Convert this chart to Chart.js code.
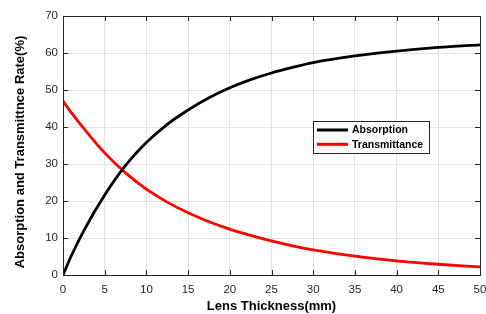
<!DOCTYPE html>
<html>
<head>
<meta charset="utf-8">
<script src="https://cdn.jsdelivr.net/npm/chart.js@4/dist/chart.umd.min.js"></script>
<style>
  html, body { margin: 0; padding: 0; background: #fff; }
  #wrap { width: 486px; height: 314px; position: relative; }
</style>
</head>
<body>
<div id="wrap"><canvas id="chart"></canvas></div>
<script>
// ─── Data ────────────────────────────────────────────────────────
const thicknessMm   = [0, 1, 2.5, 5, 7.5, 10, 12.5, 15, 17.5, 20, 22.5, 25, 27.5, 30, 35, 40, 45, 50];
const absorption    = [0, 5.2, 12.0, 21.6, 29.6, 35.8, 40.7, 44.6, 47.9, 50.6, 52.8, 54.6, 56.1, 57.4, 59.2, 60.5, 61.5, 62.2];
const transmittance = [47.0, 43.9, 39.6, 33.0, 27.6, 23.2, 19.7, 16.8, 14.4, 12.4, 10.7, 9.2, 7.9, 6.8, 5.1, 3.8, 2.9, 2.2];
const xTicks = [0, 5, 10, 15, 20, 25, 30, 35, 40, 45, 50];
const yTicks = [0, 10, 20, 30, 40, 50, 60, 70];
const yTitle = 'Absorption and Transmittnce Rate(%)';

const FONT = "'Liberation Sans', Arial, Helvetica, sans-serif";
const AXIS = '#262626';
const pts  = ys => thicknessMm.map((x, i) => ({ x, y: ys[i] }));

// ─── Box with inward ticks on all four sides (MATLAB style) ───────
const boxPlugin = {
  id: 'box',
  afterDatasetsDraw(chart) {
    const { ctx, chartArea: a, scales: { x, y } } = chart;
    const len = 5;
    ctx.save();
    ctx.strokeStyle = AXIS;
    ctx.lineWidth = 1;
    ctx.beginPath();
    xTicks.forEach(v => {
      const px = Math.round(x.getPixelForValue(v)) + .5;
      ctx.moveTo(px, a.bottom); ctx.lineTo(px, a.bottom - len);
      ctx.moveTo(px, a.top);    ctx.lineTo(px, a.top + len);
    });
    yTicks.forEach(v => {
      const py = Math.round(y.getPixelForValue(v)) + .5;
      ctx.moveTo(a.left, py);  ctx.lineTo(a.left + len, py);
      ctx.moveTo(a.right, py); ctx.lineTo(a.right - len, py);
    });
    ctx.stroke();
    ctx.strokeRect(Math.round(a.left) + .5, Math.round(a.top) + .5, Math.round(a.right - a.left), Math.round(a.bottom - a.top));
    ctx.restore();
  }
};

// ─── Y title (drawn so it sits where the reference has it) ────────
const yTitlePlugin = {
  id: 'yTitle',
  afterDraw(chart) {
    const { ctx } = chart;
    ctx.save();
    ctx.translate(20, 152);
    ctx.rotate(-Math.PI / 2);
    ctx.font = `bold 13px ${FONT}`;
    ctx.fillStyle = '#000';
    ctx.textAlign = 'center';
    ctx.textBaseline = 'middle';
    ctx.fillText(yTitle, 0, 0);
    ctx.restore();
  }
};

// ─── Legend box inside the plot ──────────────────────────────────
const legendPlugin = {
  id: 'boxLegend',
  afterDraw(chart) {
    const { ctx } = chart;
    const bx = 313, by = 121, bw = 116, bh = 32;
    ctx.save();
    ctx.fillStyle = '#fff';
    ctx.fillRect(bx, by, bw, bh);
    ctx.strokeStyle = AXIS;
    ctx.lineWidth = 1;
    ctx.strokeRect(bx + .5, by + .5, bw, bh);
    ctx.font = `bold 10.5px ${FONT}`;
    ctx.textBaseline = 'middle';
    chart.data.datasets.forEach((ds, i) => {
      const ry = by + 9 + i * 14.3;
      ctx.strokeStyle = ds.borderColor;
      ctx.lineWidth = 3;
      ctx.beginPath(); ctx.moveTo(bx + 4, ry); ctx.lineTo(bx + 35, ry); ctx.stroke();
      ctx.fillStyle = '#000';
      ctx.fillText(ds.label, bx + 39, ry + .5);
    });
    ctx.restore();
  }
};

new Chart(document.getElementById('chart'), {
  type: 'line',
  data: {
    datasets: [
      { label: 'Absorption',    data: pts(absorption),    borderColor: '#000000', borderWidth: 2.8, pointRadius: 0, cubicInterpolationMode: 'monotone', fill: false },
      { label: 'Transmittance', data: pts(transmittance), borderColor: '#ff0000', borderWidth: 2.8, pointRadius: 0, cubicInterpolationMode: 'monotone', fill: false },
    ],
  },
  options: {
    responsive: true, maintainAspectRatio: false, animation: false,
    layout: { padding: { top: 16, right: 6, left: 0, bottom: 0 } },
    plugins: { legend: { display: false }, tooltip: { enabled: false } },
    scales: {
      x: {
        type: 'linear', min: 0, max: 50,
        afterFit: s => { s.height = 39; s.paddingLeft = 0; s.paddingRight = 0; },
        afterBuildTicks: s => { s.ticks = xTicks.map(v => ({ value: v })); },
        grid: { color: '#e3e3e3', drawTicks: false },
        border: { display: false },
        ticks: { color: AXIS, padding: 8, maxRotation: 0, font: { family: FONT, size: 11.5 } },
        title: { display: true, text: 'Lens Thickness(mm)', color: '#000', padding: { top: 0, bottom: 0 }, font: { family: FONT, size: 13, weight: 'bold' } },
      },
      y: {
        min: 0, max: 70,
        afterFit: s => { s.width = 63; s.paddingTop = 0; s.paddingBottom = 0; },
        afterBuildTicks: s => { s.ticks = yTicks.map(v => ({ value: v })); },
        grid: { color: '#e3e3e3', drawTicks: false },
        border: { display: false },
        ticks: { color: AXIS, padding: 5, font: { family: FONT, size: 11.5 } },
        title: { display: false },
      },
    },
  },
  plugins: [boxPlugin, legendPlugin, yTitlePlugin],
});
</script>
</body>
</html>
